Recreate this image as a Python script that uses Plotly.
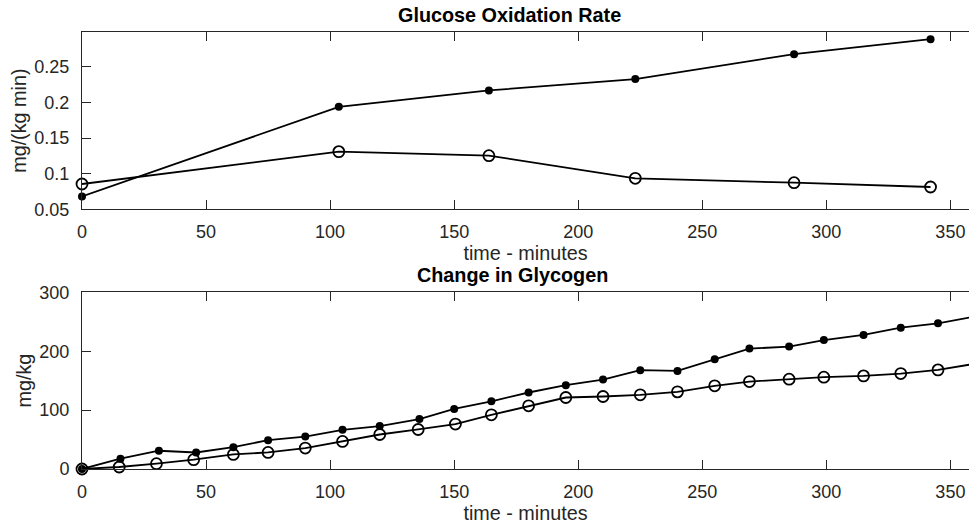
import plotly.graph_objects as go

# Glucose oxidation rate, mg/(kg min)
ox_time = [0, 103.5, 164, 223, 287, 342]
ox_filled = [0.068, 0.194, 0.217, 0.233, 0.268, 0.289]
ox_open = [0.0855, 0.131, 0.1253, 0.0935, 0.0874, 0.0813]

# Change in glycogen, mg/kg
gly_time_filled = [0, 15.5, 31, 46, 61, 75, 90, 105, 120, 136, 150, 165, 180, 195,
                   210, 225, 240, 255, 269, 285, 299, 315, 330, 345, 360]
gly_filled = [0, 17.5, 31, 28, 37, 49, 55, 66.6, 72.9, 84.7, 102, 115, 129.9, 142.4,
              151.9, 167.8, 166.6, 186.4, 204.4, 207.8, 219, 227.6, 239.9, 247.4, 259]
gly_time_open = [0, 15, 30, 45, 61, 75, 90, 105, 120, 135.5, 150.5, 165, 180, 195,
                 210, 225, 240, 255, 269, 285, 299, 315, 330, 345, 360]
gly_open = [0, 3.4, 9, 15.8, 24.7, 28.1, 35.6, 46.8, 58.6, 67.1, 76.3, 92, 107.3, 121.4,
            123.1, 126, 131, 141.2, 148.5, 152.5, 155.9, 158.1, 162.1, 168.3, 178.8]

x_ticks = [0, 50, 100, 150, 200, 250, 300, 350]
ox_ticks = [0.05, 0.1, 0.15, 0.2, 0.25]
ox_tick_text = ["0.05", "0.1", "0.15", "0.2", "0.25"]
gly_ticks = [0, 100, 200, 300]

FONT = "Liberation Sans, Arial, Helvetica, sans-serif"
AX = "#262626"
LINE_W = 1.8

fig = go.Figure()


def add_pair(t_f, y_f, t_o, y_o, xa, ya):
    fig.add_trace(go.Scatter(
        x=t_f, y=y_f, mode="lines+markers", xaxis=xa, yaxis=ya,
        line=dict(color="black", width=LINE_W),
        marker=dict(symbol="circle", size=8, color="black"),
        cliponaxis=False, showlegend=False))
    fig.add_trace(go.Scatter(
        x=t_o, y=y_o, mode="lines+markers", xaxis=xa, yaxis=ya,
        line=dict(color="black", width=LINE_W),
        marker=dict(symbol="circle-open", size=11, color="black",
                    line=dict(width=1.8, color="black")),
        cliponaxis=False, showlegend=False))


add_pair(ox_time, ox_filled, ox_time, ox_open, "x", "y")
add_pair(gly_time_filled, gly_filled, gly_time_open, gly_open, "x2", "y2")

x_common = dict(
    range=[0, 357.5], tickvals=x_ticks, ticks="inside", ticklen=9, tickwidth=1,
    tickcolor=AX, showline=True, linecolor=AX, linewidth=1, mirror="ticks",
    showgrid=False, zeroline=False, tickfont=dict(size=18, color=AX, family=FONT),
    ticklabelstandoff=6,
    title=dict(text="time - minutes", font=dict(size=19.8, color=AX, family=FONT),
               standoff=0),
)
y_common = dict(
    ticks="inside", ticklen=9, tickwidth=1, tickcolor=AX, showline=True,
    linecolor=AX, linewidth=1, mirror=False, showgrid=False, zeroline=False,
    tickfont=dict(size=18, color=AX, family=FONT), ticklabelstandoff=8,
)

fig.update_layout(
    width=969, height=524,
    margin=dict(l=82, r=0, t=32, b=55),
    paper_bgcolor="white", plot_bgcolor="white",
    font=dict(family=FONT, color=AX),
    xaxis=dict(x_common, domain=[0, 1], anchor="y"),
    yaxis=dict(y_common, domain=[0.5943, 1], anchor="x", range=[0.05, 0.2991],
               tickvals=ox_ticks, ticktext=ox_tick_text,
               title=dict(text="mg/(kg min)", font=dict(size=19.8, color=AX, family=FONT),
                          standoff=2)),
    xaxis2=dict(x_common, domain=[0, 1], anchor="y2"),
    yaxis2=dict(y_common, domain=[0, 0.4043], anchor="x2", range=[0, 300],
                tickvals=gly_ticks,
                title=dict(text="mg/kg", font=dict(size=19.8, color=AX, family=FONT),
                           standoff=2)),
    annotations=[
        dict(text="<b>Glucose Oxidation Rate</b>", x=(509 - 82) / 887, y=1,
             xref="paper", yref="paper", xanchor="center", yanchor="bottom", yshift=4,
             showarrow=False, font=dict(size=19.8, color="black", family=FONT)),
        dict(text="<b>Change in Glycogen</b>", x=(512 - 82) / 887, y=0.4043,
             xref="paper", yref="paper", xanchor="center", yanchor="bottom", yshift=4,
             showarrow=False, font=dict(size=19.8, color="black", family=FONT)),
    ],
)

fig.write_html("out.html")
